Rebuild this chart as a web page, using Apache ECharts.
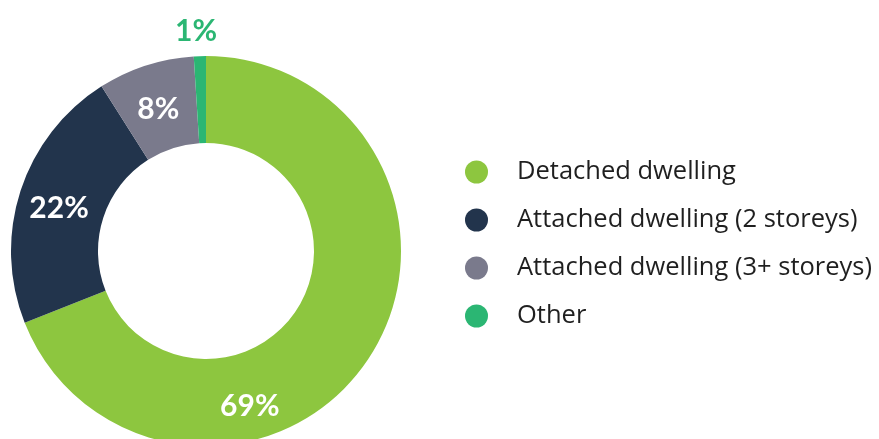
<!DOCTYPE html>
<html>
<head>
<meta charset="utf-8">
<script src="https://cdn.jsdelivr.net/npm/echarts@6/dist/echarts.min.js"></script>
<style>html,body{margin:0;padding:0;background:#fff;}#c{width:879px;height:439px;}</style>
</head>
<body>
<div id="c"></div>
<script>
const categories = ['Detached dwelling', 'Attached dwelling (2 storeys)', 'Attached dwelling (3+ storeys)', 'Other'];
const values = [69, 22, 8, 1];
const colors = ['#8DC63F', '#22344C', '#7A7A8C', '#2BB673'];

const chart = echarts.init(document.getElementById('c'));
const data = categories.map((name, i) => ({
  name: name,
  value: values[i],
  itemStyle: { color: colors[i] },
  label: i === 3 ? { color: '#2BB673', position: 'outside' } : {}
}));

chart.setOption({
  animation: false,
  legend: {
    orient: 'vertical',
    left: 460,
    top: 154,
    icon: 'circle',
    itemWidth: 23,
    itemHeight: 23,
    itemGap: 22,
    textStyle: { fontFamily: 'Open Sans', fontSize: 25.5, lineHeight: 23, color: '#1f1f1f', padding: [0, 0, 0, 24] },
    data: categories
  },
  series: [{
    type: 'pie',
    center: [206, 251],
    radius: [108, 195],
    startAngle: 90,
    clockwise: true,
    avoidLabelOverlap: false,
    label: {
      show: true,
      position: 'inside',
      formatter: '{c}%',
      color: '#fff',
      fontFamily: 'Lato',
      fontWeight: 'bold',
      fontSize: 30
    },
    labelLine: { show: false, length: 0, length2: 0 },
    labelLayout: function (p) {
      if (p.dataIndex === 0) return { dx: -84, dy: 68 };
      if (p.dataIndex === 3) return { x: 196, y: 31, align: 'center', verticalAlign: 'middle' };
      return { dy: 5 };
    },
    data: data
  }]
});
</script>
</body>
</html>
